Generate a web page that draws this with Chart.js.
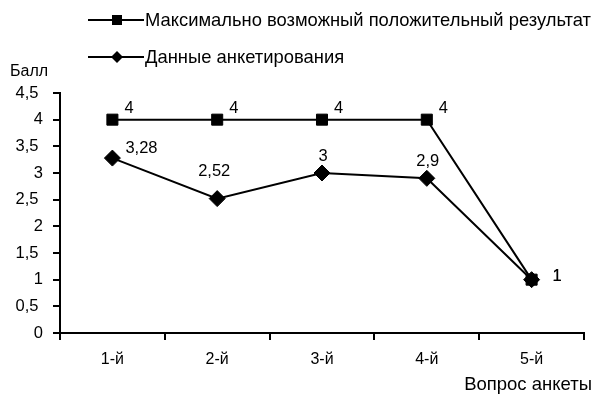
<!DOCTYPE html>
<html>
<head>
<meta charset="utf-8">
<script src="https://cdn.jsdelivr.net/npm/chart.js@4/dist/chart.umd.min.js"></script>
<style>
  html, body { margin: 0; padding: 0; background: #fff; }
  #wrap { position: relative; width: 593px; height: 397px; }
</style>
</head>
<body>
<div id="wrap"><canvas id="c" width="593" height="397"></canvas></div>
<script>
// Survey questions and scores
const categories = ['1-й', '2-й', '3-й', '4-й', '5-й'];
const maxScores = [4, 4, 4, 4, 1];
const surveyScores = [3.28, 2.52, 3, 2.9, 1];
const seriesNames = ['Максимально возможный положительный результат', 'Данные анкетирования'];
const yAxisTitle = 'Балл';
const xAxisTitle = 'Вопрос анкеты';

// where each value label sits relative to its point
const maxLabelPlaces = ['upRight', 'upRight', 'upRight', 'upRight', 'right'];
const surveyLabelPlaces = ['upRightWide', 'aboveHigh', 'above', 'above', 'right'];

const FONT = "'Liberation Sans', Arial, sans-serif";
const fmt = v => String(v).replace('.', ',');

const placeOffsets = {
  upRight:     { dx: 12, dy: -11, align: 'left' },
  upRightWide: { dx: 13, dy: -10, align: 'left' },
  above:       { dx: 1,  dy: -17, align: 'center' },
  aboveHigh:   { dx: -3, dy: -27, align: 'center' },
  right:       { dx: 21, dy: -3,  align: 'left' }
};

const valueLabels = {
  id: 'valueLabels',
  afterDatasetsDraw(chart) {
    const ctx = chart.ctx;
    ctx.save();
    ctx.fillStyle = '#000';
    ctx.font = '16.5px ' + FONT;
    ctx.textBaseline = 'middle';
    chart.data.datasets.forEach((ds, di) => {
      const meta = chart.getDatasetMeta(di);
      meta.data.forEach((pt, i) => {
        const p = placeOffsets[ds.labelPlaces[i]];
        ctx.textAlign = p.align;
        ctx.fillText(fmt(ds.data[i]), pt.x + p.dx, pt.y + p.dy);
      });
    });
    ctx.restore();
  }
};

const legendAndTitles = {
  id: 'legendAndTitles',
  afterDraw(chart) {
    const ctx = chart.ctx;
    ctx.save();
    ctx.fillStyle = '#000';
    ctx.strokeStyle = '#000';
    const rows = [
      { y: 20, shape: 'square', text: seriesNames[0] },
      { y: 57, shape: 'diamond', text: seriesNames[1] }
    ];
    rows.forEach(r => {
      ctx.lineWidth = 2;
      ctx.beginPath();
      ctx.moveTo(88, r.y);
      ctx.lineTo(144, r.y);
      ctx.stroke();
      ctx.beginPath();
      if (r.shape === 'square') {
        ctx.rect(112, r.y - 5, 10, 10);
      } else {
        ctx.moveTo(117, r.y - 6);
        ctx.lineTo(123, r.y);
        ctx.lineTo(117, r.y + 6);
        ctx.lineTo(111, r.y);
        ctx.closePath();
      }
      ctx.fill();
      ctx.font = '18.4px ' + FONT;
      ctx.textAlign = 'left';
      ctx.textBaseline = 'middle';
      ctx.fillText(r.text, 145, r.y + 1, 446);
    });
    ctx.font = '16px ' + FONT;
    ctx.textAlign = 'left';
    ctx.textBaseline = 'middle';
    ctx.fillText(yAxisTitle, 10, 72);
    ctx.font = '18.5px ' + FONT;
    ctx.textAlign = 'right';
    ctx.fillText(xAxisTitle, 592, 385);
    ctx.restore();
  }
};

new Chart(document.getElementById('c'), {
  type: 'line',
  data: {
    labels: categories,
    datasets: [
      {
        label: seriesNames[0],
        data: maxScores,
        labelPlaces: maxLabelPlaces,
        borderColor: '#000',
        backgroundColor: '#000',
        borderWidth: 2,
        pointStyle: 'rect',
        pointRadius: 7.8,
        pointBorderWidth: 1,
        pointBackgroundColor: '#000',
        pointBorderColor: '#000',
        tension: 0
      },
      {
        label: seriesNames[1],
        data: surveyScores,
        labelPlaces: surveyLabelPlaces,
        borderColor: '#000',
        backgroundColor: '#000',
        borderWidth: 2,
        pointStyle: 'rectRot',
        pointRadius: 8,
        pointBorderWidth: 1,
        pointBackgroundColor: '#000',
        pointBorderColor: '#000',
        tension: 0
      }
    ]
  },
  options: {
    responsive: false,
    animation: false,
    clip: false,
    layout: { padding: { top: 93, right: 3, bottom: 0, left: 0 } },
    plugins: {
      legend: { display: false },
      title: { display: false },
      tooltip: { enabled: false }
    },
    scales: {
      x: {
        type: 'category',
        offset: true,
        grid: { display: true, offset: true, drawOnChartArea: false, drawTicks: true, tickLength: 7, color: '#000', lineWidth: 2 },
        border: { display: true, color: '#000', width: 2 },
        ticks: { color: '#000', font: { family: FONT, size: 16 }, padding: 10, maxRotation: 0 },
        afterFit(scale) { scale.height = 64; }
      },
      y: {
        min: 0,
        max: 4.5,
        grid: { display: true, drawOnChartArea: false, drawTicks: true, tickLength: 7, color: '#000', lineWidth: 2 },
        border: { display: true, color: '#000', width: 2 },
        ticks: {
          stepSize: 0.5,
          color: '#000',
          padding: 10,
          font: { family: FONT, size: 16.5 },
          callback: v => Number.isInteger(v) ? String(v) : fmt(v) + '\u00a0'
        },
        afterFit(scale) { scale.width = 60; }
      }
    }
  },
  plugins: [valueLabels, legendAndTitles]
});
</script>
</body>
</html>
